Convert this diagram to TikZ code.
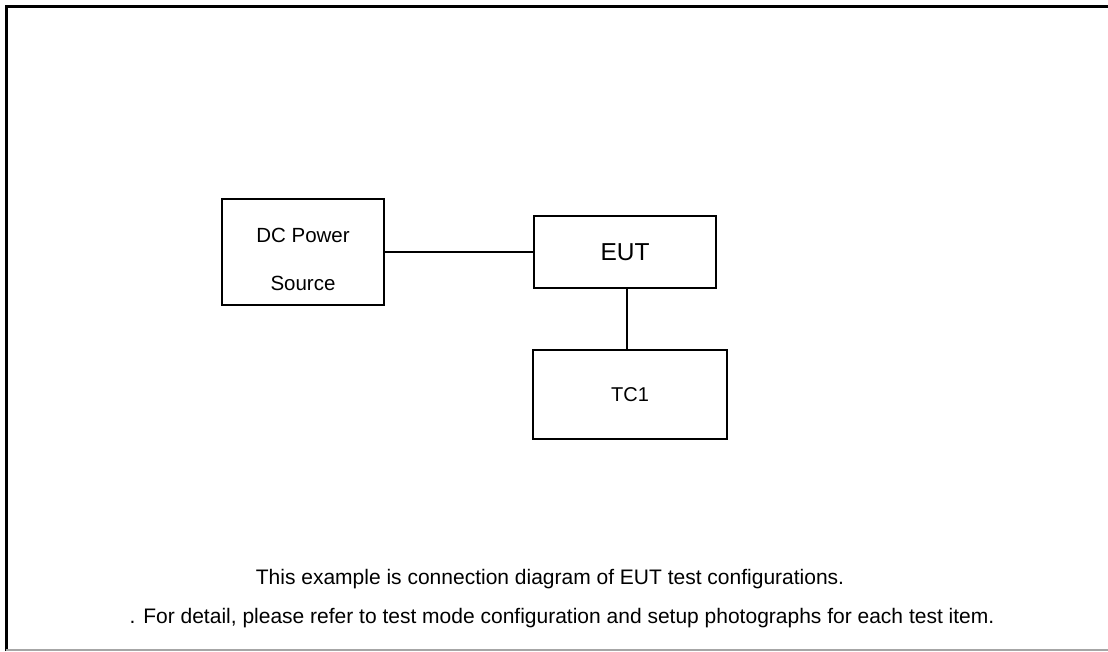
\documentclass[tikz,border=0pt]{standalone}
\usepackage{fontspec}
\setmainfont{Liberation Sans}
\begin{document}
\begin{tikzpicture}[x=1pt,y=-1pt,
  box/.style={draw,line width=1.2pt,inner sep=0pt},
  wire/.style={line width=1.3pt},
  lbl/.style={font=\fontsize{20.5}{24}\selectfont},
  note/.style={font=\fontsize{21}{25}\selectfont}]
\useasboundingbox (0,0) rectangle (1108,651);
\fill[white] (0,0) rectangle (1108,651);
% frame
\draw[line width=3pt] (6,651) -- (6,6) -- (1108,6);
\draw[gray!70,line width=1.5pt] (6,650) -- (1108,650);
% boxes
\node[box,minimum width=162pt,minimum height=106pt] (dc) at (303,252) {};
\node[lbl] (dc1) at (303,235) {DC Power};
\node[lbl] (dc2) at (303,283) {Source};
\node[box,minimum width=182pt,minimum height=72pt,font=\fontsize{24.5}{28}\selectfont] (eut) at (625,252) {EUT};
\node[box,minimum width=194pt,minimum height=89pt,font=\fontsize{20}{24}\selectfont] (tc) at (630,394.5) {TC1};
% connectors
\draw[wire] (dc.east) -- (eut.west);
\draw[wire] (eut.south -| 627,0) -- (tc.north -| 627,0);
% notes
\node[note] (n1) at (550,579) {This example is connection diagram of EUT test configurations.};
\node[note] (n2) at (562,618) {. For detail, please refer to test mode configuration and setup photographs for each test item.};
\end{tikzpicture}
\end{document}
